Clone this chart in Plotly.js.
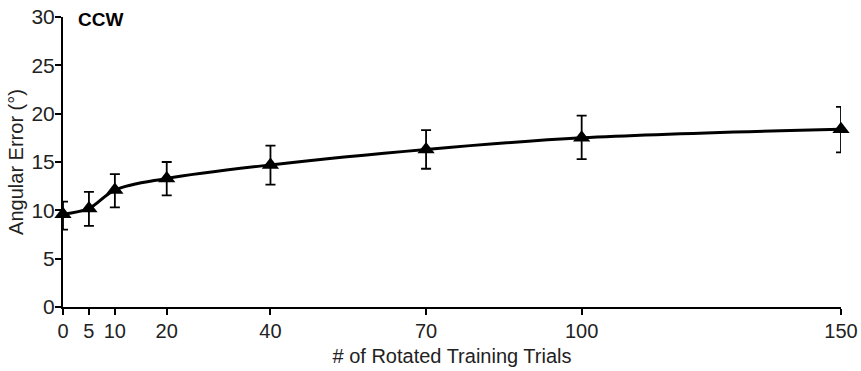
<!DOCTYPE html>
<html><head><meta charset="utf-8">
<script src="https://cdn.plot.ly/plotly-3.0.1.min.js"></script>
<style>html,body{margin:0;padding:0;background:#fff}</style>
</head><body>
<div id="chart" style="width:861px;height:371px"></div>
<script>
const trials = [0, 5, 10, 20, 40, 70, 100, 150];
const meanError = [9.6, 10.2, 12.1, 13.3, 14.7, 16.3, 17.5, 18.4];
const upperBar = [10.9, 11.9, 13.75, 15.0, 16.7, 18.3, 19.8, 20.7];
const lowerBar = [8.0, 8.4, 10.3, 11.55, 12.65, 14.3, 15.3, 16.0];
const xTicks = [0, 5, 10, 20, 40, 70, 100, 150];
const yTicks = [0, 5, 10, 15, 20, 25, 30];

const errPlus = upperBar.map((u, i) => u - meanError[i]);
const errMinus = lowerBar.map((l, i) => meanError[i] - l);

const font = 'Liberation Sans, Arial, sans-serif';
const trace = {
  x: trials, y: meanError, type: 'scatter', mode: 'lines+markers',
  line: {color: '#000', width: 3, shape: 'spline', smoothing: 1},
  marker: {symbol: 'triangle-up', size: 15, color: '#000'},
  error_y: {type: 'data', symmetric: false, array: errPlus, arrayminus: errMinus,
            color: '#000', thickness: 1.8, width: 5},
  cliponaxis: false, showlegend: false
};
const layout = {
  width: 861, height: 371,
  margin: {l: 63, r: 20, t: 17, b: 64},
  paper_bgcolor: '#fff', plot_bgcolor: '#fff',
  font: {family: font, color: '#222', size: 20},
  xaxis: {range: [0, 150], tickvals: xTicks, ticktext: xTicks.map(String),
          showgrid: false, zeroline: false, showline: true, linecolor: '#000', linewidth: 2,
          ticks: 'outside', ticklen: 6, tickwidth: 2, tickcolor: '#000', automargin: false,
          ticklabelstandoff: -1,
          tickfont: {size: 20}, title: {text: '# of Rotated Training Trials', font: {size: 20}, standoff: 8}},
  yaxis: {range: [0, 30], tickvals: yTicks, showgrid: false, zeroline: false,
          showline: true, linecolor: '#000', linewidth: 2, automargin: false,
          ticks: 'outside', ticklen: 6, tickwidth: 2, tickcolor: '#000', ticklabelstandoff: -4,
          tickfont: {size: 21}, title: {text: 'Angular Error (°)', font: {size: 20}, standoff: 2}},
  annotations: [{text: '<b>CCW</b>', xref: 'paper', yref: 'paper', x: 0.017, y: 0.99,
                 xanchor: 'left', yanchor: 'middle', showarrow: false, font: {size: 19, color: '#000'}}]
};
Plotly.newPlot('chart', [trace], layout, {displayModeBar: false, staticPlot: true});
</script>
</body></html>
